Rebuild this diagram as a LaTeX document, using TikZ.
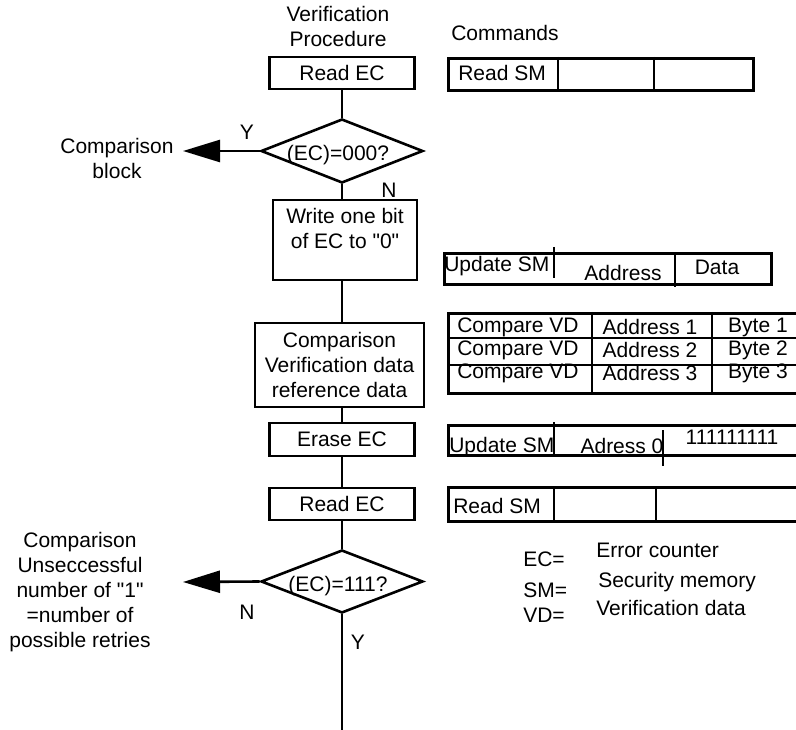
\documentclass[tikz,border=0pt]{standalone}
\usepackage{fontspec}
\newfontfamily\plainsans{Liberation Sans}
\usetikzlibrary{shapes.geometric,arrows.meta}
\begin{document}
\begin{tikzpicture}[x=1pt,y=-1pt,line width=2.6pt,
  every node/.style={font=\plainsans\fontsize{21}{25}\selectfont,inner sep=0pt},
  stepbox/.style={draw,rectangle,minimum width=145pt,minimum height=32pt},
  decision/.style={draw,diamond,minimum width=162pt,minimum height=64pt},
  cmdbox/.style={draw,rectangle,anchor=north west},
  outarrow/.style={-{Triangle[length=37pt,width=22pt]}}]
\useasboundingbox (0,0) rectangle (796,730);
% flow chart
\node[align=center] (vtitle) at (338,26) {Verification\\Procedure};
\node[stepbox] (rdec1) at (342,73) {Read EC};
\node[decision] (ec0) at (342,151) {};
\node (ec0t) at (338,155) {(EC)=000?};
\node[stepbox,minimum width=144pt,minimum height=80pt] (wrbit) at (345,240) {};
\node[align=center] (wrbitt) at (345,228) {Write one bit\\of EC to "0"};
\node[stepbox,minimum width=169pt,minimum height=84pt,align=center] (cmpvd) at (339.5,365) {Comparison\\Verification data\\reference data};
\node[stepbox,minimum height=33pt] (erec) at (342,439.5) {Erase EC};
\node[stepbox] (rdec2) at (342,504) {Read EC};
\node[decision,minimum height=63pt] (ec1) at (342,581.5) {};
\node (ec1t) at (338,586) {(EC)=111?};
\coordinate (exit) at (342,740);
\draw (rdec1.south) -- (ec0.north);
\draw (ec0.south) -- (ec0.south |- wrbit.north);
\draw (ec0.south |- wrbit.south) -- (ec0.south |- cmpvd.north);
\draw (ec0.south |- cmpvd.south) -- (erec.north);
\draw (erec.south) -- (rdec2.north);
\draw (rdec2.south) -- (ec1.north);
\draw (ec1.south) -- (exit);
% exits to the left
\coordinate (ec0out) at (183,151);
\coordinate (ec1out) at (183,582);
\draw[outarrow] (ec0.west) -- (ec0out);
\draw[outarrow] (ec1.west) -- (ec1out);
\node[align=center] (cmpblk) at (117,158) {Comparison\\block};
\node[align=center] (retries) at (80,592.5) {Comparison\\Unseccessful\\number of "1"\\=number of\\possible retries};
\node (yes0) at (247,132) {Y};
\node (no0) at (389,190) {N};
\node (no1) at (247,612) {N};
\node (yes1) at (358,642) {Y};
% commands
\node (cmds) at (505,33) {Commands};
\node[cmdbox,minimum width=305pt,minimum height=32pt] (rsm1) at (447,57) {};
\foreach \x in {558,654}{\draw (\x,57) -- (\x,89);}
\node[anchor=west] (rsm1t) at (457,73) {Read SM};
\node[cmdbox,minimum width=327pt,minimum height=31pt] (usm1) at (443,252) {};
\draw (554,247) -- (554,278); \draw (675,255) -- (675,287);
\node[anchor=west] (usm1t) at (443,266) {Update SM};
\node (addr) at (623,273) {Address};
\node (data) at (717,267) {Data};
\node[cmdbox,minimum width=370pt,minimum height=80pt] (cvd) at (447,312) {};
\foreach \y in {338,365}{\draw (447,\y) -- (817,\y);}
\foreach \x in {592,712}{\draw (\x,312) -- (\x,395);}
\foreach \r/\y in {1/327,2/350,3/373}{
  \node (cvd\r) at (518,\y) {Compare VD};
  \node (adr\r) at (650,\y) {Address \r};
  \node (byte\r) at (758,\y) {Byte \r};}
\node[cmdbox,minimum width=360pt,minimum height=30pt] (usm2) at (447,424) {};
\draw (554,422) -- (554,457); \draw (663,430) -- (663,466);
\node[anchor=west] (usm2t) at (448,447) {Update SM};
\node (adr0) at (622,446) {Adress 0};
\node (ones) at (732,437) {111111111};
\node[cmdbox,minimum width=360pt,minimum height=34pt] (rsm2) at (447,486) {};
\foreach \x in {554,656}{\draw (\x,486) -- (\x,520);}
\node[anchor=west] (rsm2t) at (452,506) {Read SM};
% legend
\foreach \k/\y/\d/\dx/\dy in {EC/559/Error counter/595/550,SM/590/Security memory/597/582,VD/615/Verification data/595/608}{
  \node[anchor=west] (key\k) at (522,\y) {\k=};
  \node[anchor=west] (txt\k) at (\dx,\dy) {\d};}
\end{tikzpicture}
\end{document}
